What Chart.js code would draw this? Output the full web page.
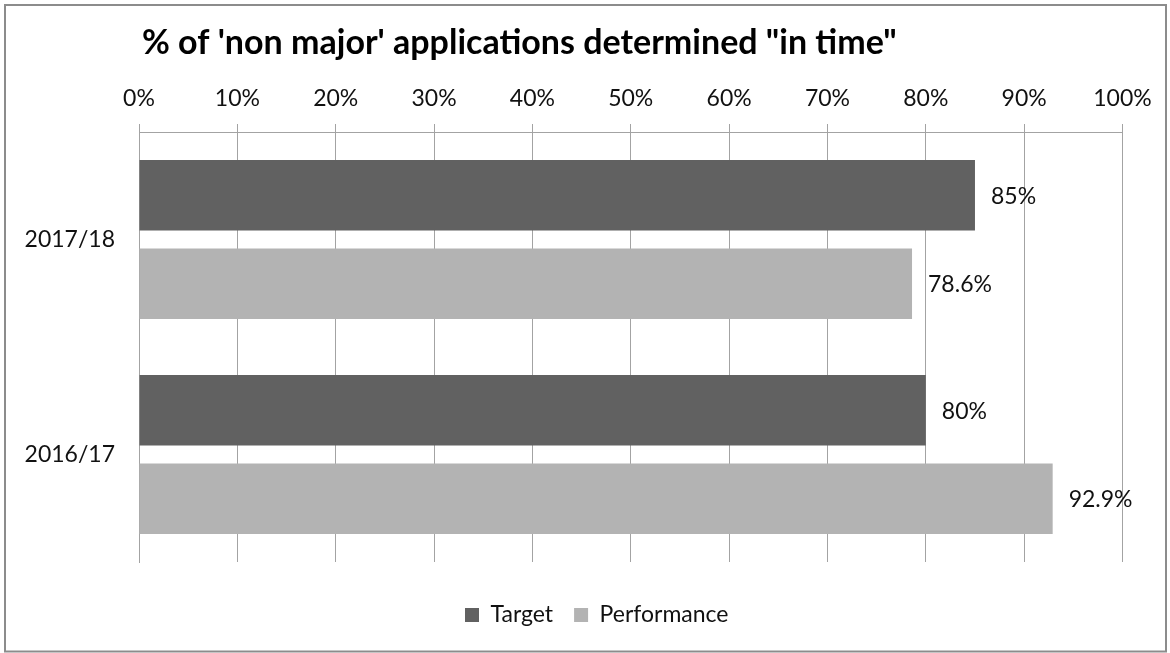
<!DOCTYPE html>
<html>
<head>
<meta charset="utf-8">
<title>Non major applications determined in time</title>
<script src="https://cdn.jsdelivr.net/npm/chart.js@4.4.1/dist/chart.umd.min.js"></script>
<style>
  html, body { margin: 0; padding: 0; background: #ffffff; }
  #wrap { position: relative; width: 1170px; height: 653px; }
</style>
</head>
<body>
<div id="wrap"><canvas id="chart" width="1170" height="653"></canvas></div>
<script>
// Chart data
const chartTitle = '% of \'non major\' applications determined "in time"';
const categories = ['2017/18', '2016/17'];
const seriesNames = ['Target', 'Performance'];
const targetValues = [85, 80];
const performanceValues = [78.6, 92.9];

const FONT = 'Lato, "Open Sans", "Noto Sans", sans-serif';
const TEXT = '#111111';
const GRID = '#a3a3a3';

// White background, outer frame and the left-aligned heading
const frameAndHeading = {
  id: 'frameAndHeading',
  beforeDraw(chart) {
    const ctx = chart.ctx;
    ctx.save();
    ctx.fillStyle = '#ffffff';
    ctx.fillRect(0, 0, chart.width, chart.height);
    ctx.strokeStyle = '#8c8c8c';
    ctx.lineWidth = 2;
    ctx.strokeRect(5, 5, 1161, 646.5);
    ctx.restore();
  },
  afterDraw(chart) {
    const ctx = chart.ctx;
    ctx.save();
    ctx.fillStyle = '#000000';
    ctx.font = 'bold 34px ' + FONT;
    ctx.textBaseline = 'alphabetic';
    ctx.textAlign = 'left';
    ctx.fillText(chartTitle, chart.chartArea.left + 3, 54);
    ctx.restore();
  }
};

// Centre the legend under the plot rather than under the whole canvas
const legendOffset = {
  id: 'legendOffset',
  afterLayout(chart) {
    const lg = chart.legend;
    if (!lg) return;
    const shift = (chart.chartArea.left + chart.chartArea.right) / 2 - (lg.left + lg.right) / 2 - 34;
    lg.left += shift;
    lg.right += shift;
  }
};

// Value labels just past the end of each bar
const barValueLabels = {
  id: 'barValueLabels',
  afterDatasetsDraw(chart) {
    const ctx = chart.ctx;
    ctx.save();
    ctx.fillStyle = TEXT;
    ctx.font = '23px ' + FONT;
    ctx.textBaseline = 'middle';
    ctx.textAlign = 'left';
    chart.data.datasets.forEach((ds, di) => {
      const meta = chart.getDatasetMeta(di);
      meta.data.forEach((bar, i) => {
        ctx.fillText(ds.data[i] + '%', bar.x + 16, bar.y + 1);
      });
    });
    ctx.restore();
  }
};

new Chart(document.getElementById('chart'), {
  type: 'bar',
  data: {
    labels: categories,
    datasets: [
      {
        label: seriesNames[0],
        data: targetValues,
        backgroundColor: '#616161',
        borderWidth: 0,
        categoryPercentage: 0.823,
        barPercentage: 0.797
      },
      {
        label: seriesNames[1],
        data: performanceValues,
        backgroundColor: '#b3b3b3',
        borderWidth: 0,
        categoryPercentage: 0.823,
        barPercentage: 0.797
      }
    ]
  },
  options: {
    indexAxis: 'y',
    responsive: false,
    animation: false,
    devicePixelRatio: 1,
    layout: { padding: { top: 80, right: 47.5, bottom: 16.5, left: 0 } },
    scales: {
      x: {
        position: 'top',
        min: 0,
        max: 100,
        ticks: {
          stepSize: 10,
          padding: 12,
          color: TEXT,
          font: { family: FONT, size: 23 },
          callback: v => v + '%'
        },
        grid: { color: GRID, tickColor: GRID, drawTicks: true, tickLength: 8, lineWidth: 1 },
        border: { display: true, color: GRID, width: 1 },
        afterFit(scale) { scale.height = 52; }
      },
      y: {
        ticks: {
          padding: 24,
          color: TEXT,
          font: { family: FONT, size: 23 }
        },
        grid: { display: false, drawTicks: false },
        border: { display: true, color: GRID, width: 1 },
        afterFit(scale) { scale.width = 139; }
      }
    },
    plugins: {
      title: { display: false },
      tooltip: { enabled: false },
      legend: {
        position: 'bottom',
        align: 'center',
        title: { display: true, text: '', font: { size: 10 }, padding: { top: 0, bottom: 8.5 } },
        labels: {
          boxWidth: 14,
          boxHeight: 14,
          padding: 21,
          color: TEXT,
          font: { family: FONT, size: 23 }
        }
      }
    }
  },
  plugins: [frameAndHeading, legendOffset, barValueLabels]
});
</script>
</body>
</html>
